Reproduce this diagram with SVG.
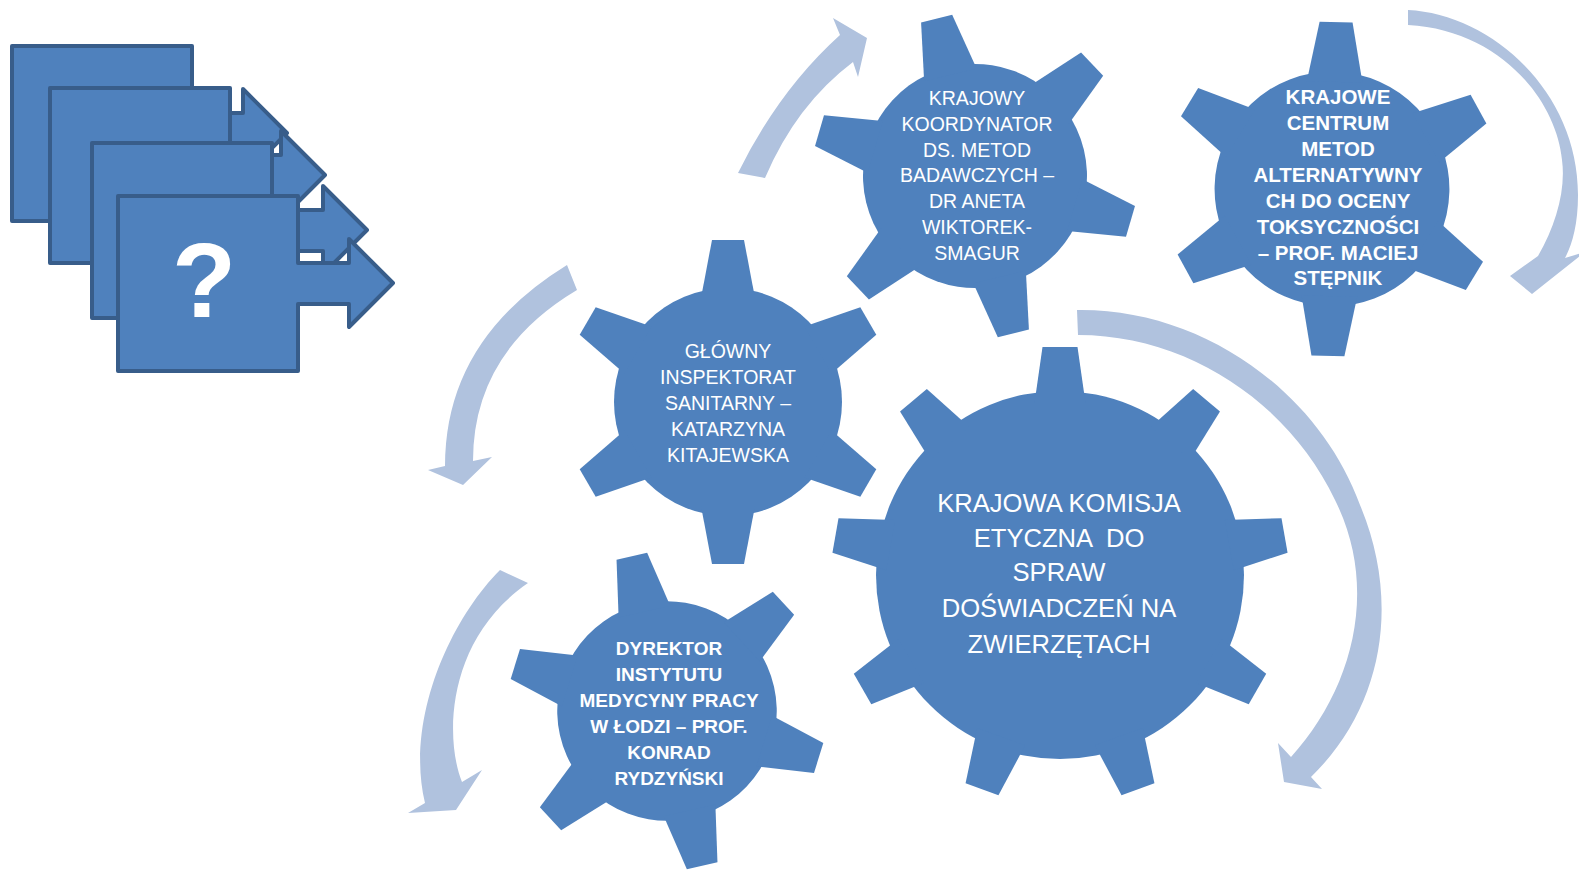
<svg xmlns="http://www.w3.org/2000/svg" xmlns:xlink="http://www.w3.org/1999/xlink" width="1579" height="871" viewBox="0 0 1579 871">
<style>
.gear{fill:#4F81BD}
.arr{fill:#B0C2DE}
.doc{fill:#4F81BD;stroke:#385D8A;stroke-width:4;stroke-linejoin:round}
.t{font-family:"Liberation Sans",Arial,sans-serif;fill:#FFFFFF;text-anchor:middle}
.r19{font-size:19.5px}
.b21{font-size:20.5px;font-weight:bold}
.b19{font-size:19px;font-weight:bold}
.r25{font-size:25.6px}
</style>
<defs>
<polygon id="tooth6" points="-27,-104 -16,-162 16,-162 27,-104"/>
<polygon id="tooth9" points="-25.5,-172 -17.5,-228 17.5,-228 25.5,-172"/>
</defs>
<rect width="1579" height="871" fill="#FFFFFF"/>

<g id="icon">
<path class="doc" d="M12,46 H192 V113 H243 V89 L287,133 L243,177 V154 H192 V221 H12 Z"/>
<path class="doc" d="M50,88 H230 V155 H281 V131 L325,175 L281,219 V196 H230 V263 H50 Z"/>
<path class="doc" d="M92,143 H272 V210 H323 V186 L367,230 L323,274 V251 H272 V318 H92 Z"/>
<path class="doc" d="M118,196 H298 V263 H349 V239 L393,283 L349,327 V304 H298 V371 H118 Z"/>
<text x="204" y="317" font-family="Liberation Sans, Arial, sans-serif" font-size="105" font-weight="bold" fill="#FFFFFF" text-anchor="middle">?</text>
</g>

<g id="connectors">
<path class="arr" d="M738,173 Q779,90 840,35 L833,18 L867,38 L858,77 L853,62 Q796,105 765,178 Z"/>
<path class="arr" d="M1408,10 C1490,14 1578,90 1578,195 C1578,225 1572,245 1565,258 L1585,252 L1532,294 L1510,276 L1538,256 C1556,225 1566,190 1562,160 C1556,100 1500,30 1408,25 Z"/>
<path class="arr" d="M1077,310 C1200,308 1318,390 1360,505 C1400,600 1385,705 1311,777 L1322,789 L1284,782 L1278,743 L1291,757 C1352,690 1380,590 1335,500 C1290,405 1190,335 1078,335 Z"/>
<path class="arr" d="M567,265 Q445,340 445,466 L428,470 L463,485 L492,457 L473,461 Q473,352 577,290 Z"/>
<path class="arr" d="M500,570 C450,620 405,720 425,803 L408,813 L456,810 L482,770 L462,782 C445,740 445,640 528,583 Z"/>
</g>

<g id="gear-koordynator">
<g class="gear" transform="translate(975,176) rotate(-13.7)">
<circle r="112"/>
<use xlink:href="#tooth6"/><use xlink:href="#tooth6" transform="rotate(60)"/><use xlink:href="#tooth6" transform="rotate(120)"/><use xlink:href="#tooth6" transform="rotate(180)"/><use xlink:href="#tooth6" transform="rotate(240)"/><use xlink:href="#tooth6" transform="rotate(300)"/>
</g>
<text class="t r19"><tspan x="977" y="105">KRAJOWY</tspan><tspan x="977" y="131">KOORDYNATOR</tspan><tspan x="977" y="157">DS. METOD</tspan><tspan x="977" y="182">BADAWCZYCH –</tspan><tspan x="977" y="208">DR ANETA</tspan><tspan x="977" y="234">WIKTOREK-</tspan><tspan x="977" y="260">SMAGUR</tspan></text>
</g>

<g id="gear-centrum">
<g class="gear" transform="translate(1332,189) rotate(1.4) scale(1.03)">
<circle r="114"/>
<use xlink:href="#tooth6"/><use xlink:href="#tooth6" transform="rotate(60)"/><use xlink:href="#tooth6" transform="rotate(120)"/><use xlink:href="#tooth6" transform="rotate(180)"/><use xlink:href="#tooth6" transform="rotate(240)"/><use xlink:href="#tooth6" transform="rotate(300)"/>
</g>
<text class="t b21"><tspan x="1338" y="104">KRAJOWE</tspan><tspan x="1338" y="130">CENTRUM</tspan><tspan x="1338" y="156">METOD</tspan><tspan x="1338" y="182">ALTERNATYWNY</tspan><tspan x="1338" y="208">CH DO OCENY</tspan><tspan x="1338" y="234">TOKSYCZNOŚCI</tspan><tspan x="1338" y="260">– PROF. MACIEJ</tspan><tspan x="1338" y="285">STĘPNIK</tspan></text>
</g>

<g id="gear-gis">
<g class="gear" transform="translate(728,402)">
<circle r="114"/>
<use xlink:href="#tooth6"/><use xlink:href="#tooth6" transform="rotate(60)"/><use xlink:href="#tooth6" transform="rotate(120)"/><use xlink:href="#tooth6" transform="rotate(180)"/><use xlink:href="#tooth6" transform="rotate(240)"/><use xlink:href="#tooth6" transform="rotate(300)"/>
</g>
<text class="t r19"><tspan x="728" y="358">GŁÓWNY</tspan><tspan x="728" y="384">INSPEKTORAT</tspan><tspan x="728" y="410">SANITARNY –</tspan><tspan x="728" y="436">KATARZYNA</tspan><tspan x="728" y="462">KITAJEWSKA</tspan></text>
</g>

<g id="gear-komisja">
<g class="gear" transform="translate(1060,575)">
<circle r="184"/>
<use xlink:href="#tooth9"/><use xlink:href="#tooth9" transform="rotate(40)"/><use xlink:href="#tooth9" transform="rotate(80)"/><use xlink:href="#tooth9" transform="rotate(120)"/><use xlink:href="#tooth9" transform="rotate(160)"/><use xlink:href="#tooth9" transform="rotate(200)"/><use xlink:href="#tooth9" transform="rotate(240)"/><use xlink:href="#tooth9" transform="rotate(280)"/><use xlink:href="#tooth9" transform="rotate(320)"/>
</g>
<text class="t r25" xml:space="preserve"><tspan x="1059" y="512">KRAJOWA KOMISJA</tspan><tspan x="1059" y="547">ETYCZNA  DO</tspan><tspan x="1059" y="581">SPRAW</tspan><tspan x="1059" y="617">DOŚWIADCZEŃ NA</tspan><tspan x="1059" y="653">ZWIERZĘTACH</tspan></text>
</g>

<g id="gear-dyrektor">
<g class="gear" transform="translate(667,711) rotate(-12.8) scale(0.98)">
<circle r="112"/>
<use xlink:href="#tooth6"/><use xlink:href="#tooth6" transform="rotate(60)"/><use xlink:href="#tooth6" transform="rotate(120)"/><use xlink:href="#tooth6" transform="rotate(180)"/><use xlink:href="#tooth6" transform="rotate(240)"/><use xlink:href="#tooth6" transform="rotate(300)"/>
</g>
<text class="t b19"><tspan x="669" y="655">DYREKTOR</tspan><tspan x="669" y="681">INSTYTUTU</tspan><tspan x="669" y="707">MEDYCYNY PRACY</tspan><tspan x="669" y="733">W ŁODZI – PROF.</tspan><tspan x="669" y="759">KONRAD</tspan><tspan x="669" y="785">RYDZYŃSKI</tspan></text>
</g>
</svg>
